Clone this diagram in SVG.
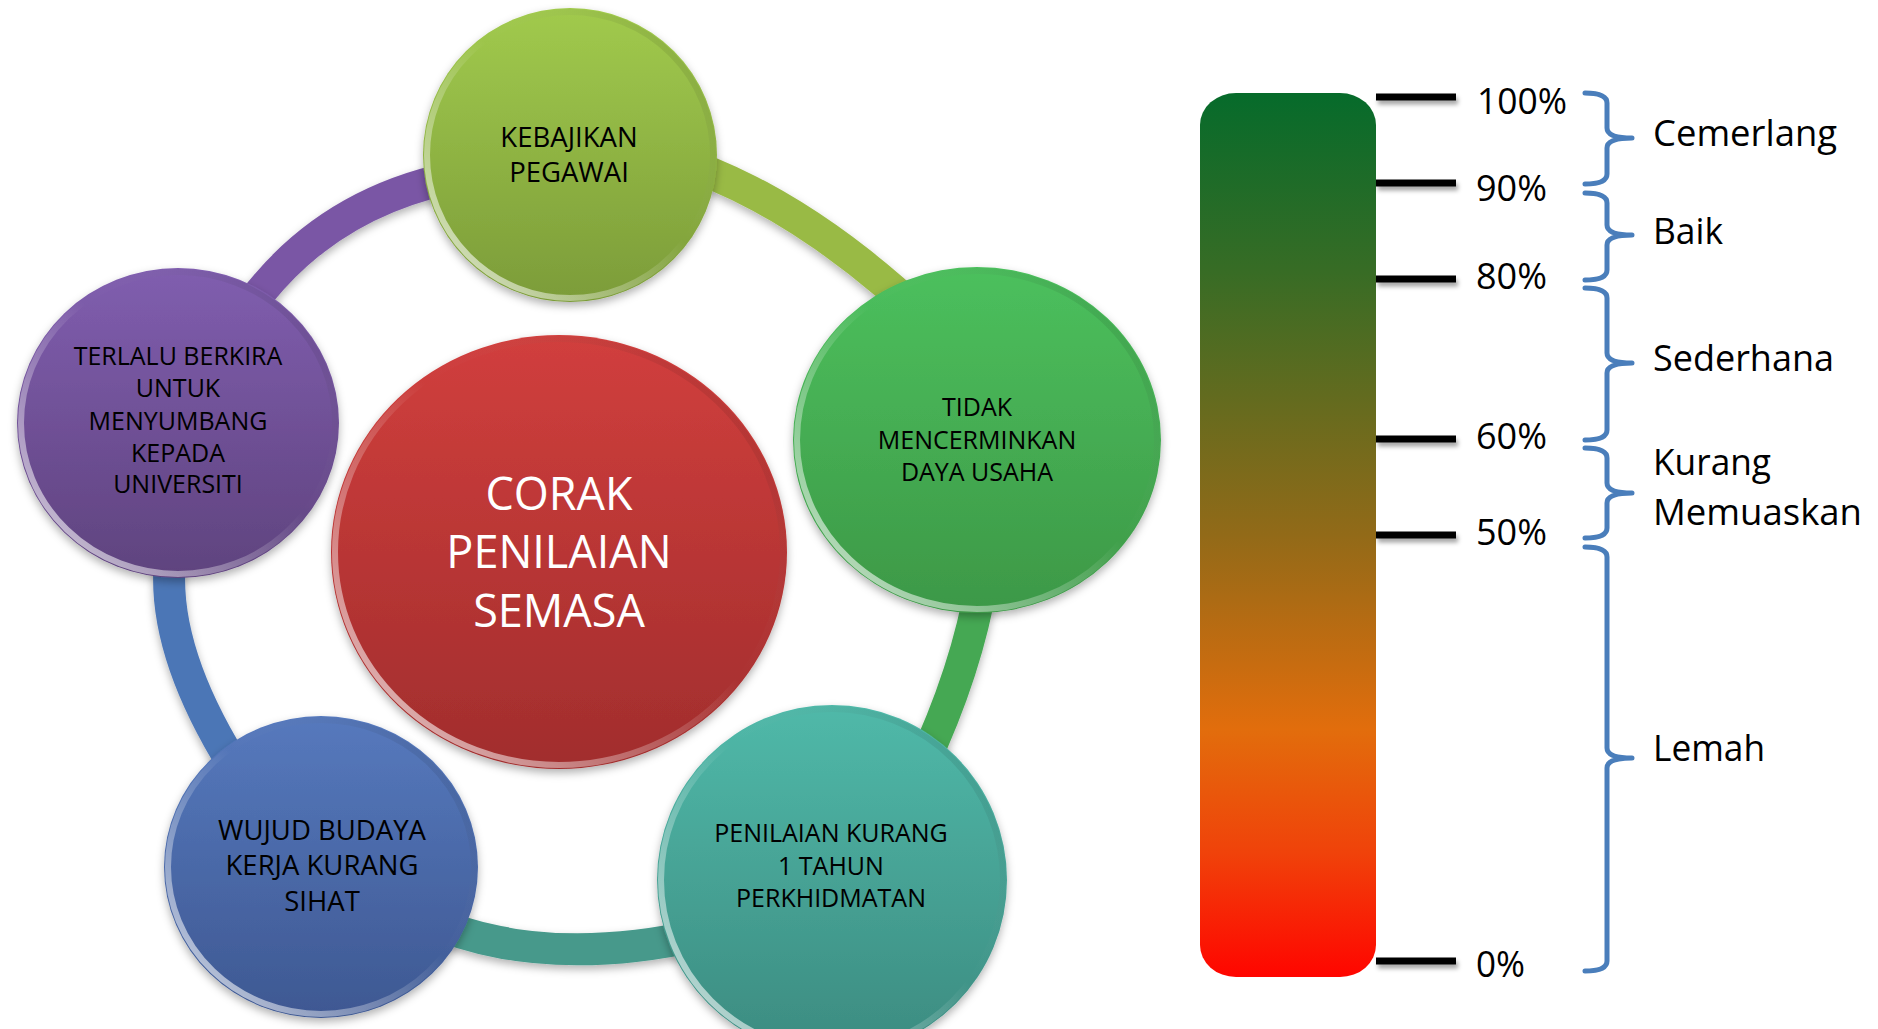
<svg xmlns="http://www.w3.org/2000/svg" width="1878" height="1029" viewBox="0 0 1878 1029">
<defs>
  <style>
    .lbl { font-family: "Open Sans", "Liberation Sans", sans-serif; fill: #000; text-anchor: middle; }
    .s25 { font-size: 25px; }
    .s27 { font-size: 27.5px; }
    .ctr { font-family: "Open Sans", "Liberation Sans", sans-serif; font-size: 45px; fill: #fff; text-anchor: middle; }
    .scale { font-family: "Open Sans", "Liberation Sans", sans-serif; font-size: 37px; fill: #000; }
    .arc { fill: none; stroke-width: 32; stroke-linecap: butt; }
    .rim { fill: none; stroke: url(#rim); stroke-width: 6; }
    .tick { stroke: #000; stroke-width: 7; }
    .brace { fill: none; stroke: #4A7EBB; stroke-width: 5; stroke-linejoin: round; stroke-linecap: round; }
  </style>
  <filter id="sh" x="-20%" y="-20%" width="140%" height="140%">
    <feDropShadow dx="0" dy="4" stdDeviation="4" flood-color="#000" flood-opacity="0.3"/>
  </filter>
  <filter id="tsh" x="-20%" y="-100%" width="140%" height="400%">
    <feDropShadow dx="2" dy="4" stdDeviation="2" flood-color="#000" flood-opacity="0.35"/>
  </filter>
  <linearGradient id="rim" x1="0" y1="1" x2="1" y2="0">
    <stop offset="0" stop-color="#fff" stop-opacity="0.8"/>
    <stop offset="0.3" stop-color="#fff" stop-opacity="0.35"/>
    <stop offset="0.55" stop-color="#fff" stop-opacity="0"/>
    <stop offset="0.85" stop-color="#000" stop-opacity="0.08"/>
    <stop offset="1" stop-color="#fff" stop-opacity="0.3"/>
  </linearGradient>
  <linearGradient id="gRed" x1="0" y1="0" x2="0" y2="1">
    <stop offset="0" stop-color="#D13F3D"/>
    <stop offset="1" stop-color="#A12D2D"/>
  </linearGradient>
  <linearGradient id="gTop" x1="0" y1="0" x2="0" y2="1">
    <stop offset="0" stop-color="#A1CA4D"/>
    <stop offset="1" stop-color="#7C9C39"/>
  </linearGradient>
  <linearGradient id="gGreen" x1="0" y1="0" x2="0" y2="1">
    <stop offset="0" stop-color="#4CC05D"/>
    <stop offset="1" stop-color="#3D9847"/>
  </linearGradient>
  <linearGradient id="gTeal" x1="0" y1="0" x2="0" y2="1">
    <stop offset="0" stop-color="#50B9A9"/>
    <stop offset="1" stop-color="#3C8B80"/>
  </linearGradient>
  <linearGradient id="gBlue" x1="0" y1="0" x2="0" y2="1">
    <stop offset="0" stop-color="#5679BD"/>
    <stop offset="1" stop-color="#3E5892"/>
  </linearGradient>
  <linearGradient id="gPurple" x1="0" y1="0" x2="0" y2="1">
    <stop offset="0" stop-color="#805EAF"/>
    <stop offset="1" stop-color="#5F437E"/>
  </linearGradient>
  <linearGradient id="gBar" x1="0" y1="0" x2="0" y2="1">
    <stop offset="0" stop-color="#066B2B"/>
    <stop offset="0.2" stop-color="#376C25"/>
    <stop offset="0.5" stop-color="#926A18"/>
    <stop offset="0.72" stop-color="#E26D0C"/>
    <stop offset="0.86" stop-color="#F0420A"/>
    <stop offset="1" stop-color="#FF0500"/>
  </linearGradient>
</defs>
<rect width="1878" height="1029" fill="#fff"/>

<g id="connectors" filter="url(#sh)">
  <path class="arc" stroke="#7A57A5" d="M240,320 Q315,207 450,178"/>
  <path class="arc" stroke="#99BA45" d="M690,165 Q800,205 910,305"/>
  <path class="arc" stroke="#45A852" d="M982,580 Q967,671 920,770"/>
  <path class="arc" stroke="#47998B" d="M700,935 Q550,968 440,925"/>
  <path class="arc" stroke="#4C76B6" d="M240,775 Q161,652.5 170,560"/>
</g>

<g id="node-top">
  <ellipse cx="570" cy="155" rx="147" ry="147" fill="url(#gTop)" filter="url(#sh)"/>
  <ellipse class="rim" cx="570" cy="155" rx="143" ry="143"/>
  <text class="lbl s27" x="569" y="147">KEBAJIKAN</text>
  <text class="lbl s27" x="569" y="182">PEGAWAI</text>
</g>

<g id="node-green">
  <ellipse cx="977" cy="440" rx="184" ry="173" fill="url(#gGreen)" filter="url(#sh)"/>
  <ellipse class="rim" cx="977" cy="440" rx="180" ry="169"/>
  <text class="lbl s25" x="977" y="416">TIDAK</text>
  <text class="lbl s25" x="977" y="449">MENCERMINKAN</text>
  <text class="lbl s25" x="977" y="481">DAYA USAHA</text>
</g>

<g id="node-teal">
  <ellipse cx="832" cy="880" rx="175" ry="175" fill="url(#gTeal)" filter="url(#sh)"/>
  <ellipse class="rim" cx="832" cy="880" rx="171" ry="171"/>
  <text class="lbl s25" x="831" y="842">PENILAIAN KURANG</text>
  <text class="lbl s25" x="831" y="875">1 TAHUN</text>
  <text class="lbl s25" x="831" y="907">PERKHIDMATAN</text>
</g>

<g id="node-blue">
  <ellipse cx="321" cy="867" rx="157" ry="151" fill="url(#gBlue)" filter="url(#sh)"/>
  <ellipse class="rim" cx="321" cy="867" rx="153" ry="147"/>
  <text class="lbl s27" x="322" y="840">WUJUD BUDAYA</text>
  <text class="lbl s27" x="322" y="875">KERJA KURANG</text>
  <text class="lbl s27" x="322" y="911">SIHAT</text>
</g>

<g id="node-purple">
  <ellipse cx="178" cy="423" rx="161" ry="155" fill="url(#gPurple)" filter="url(#sh)"/>
  <ellipse class="rim" cx="178" cy="423" rx="157" ry="151"/>
  <text class="lbl s25" x="178" y="365">TERLALU BERKIRA</text>
  <text class="lbl s25" x="178" y="397">UNTUK</text>
  <text class="lbl s25" x="178" y="430">MENYUMBANG</text>
  <text class="lbl s25" x="178" y="462">KEPADA</text>
  <text class="lbl s25" x="178" y="493">UNIVERSITI</text>
</g>

<g id="node-center">
  <ellipse cx="559" cy="552" rx="228" ry="217" fill="url(#gRed)" filter="url(#sh)"/>
  <ellipse class="rim" cx="559" cy="552" rx="224" ry="213"/>
  <text class="ctr" x="559" y="510">CORAK</text>
  <text class="ctr" x="559" y="568">PENILAIAN</text>
  <text class="ctr" x="559" y="627">SEMASA</text>
</g>

<g id="scale-bar">
  <rect x="1200" y="93" width="176" height="884" rx="36" ry="32" fill="url(#gBar)"/>
</g>

<g id="ticks" filter="url(#tsh)">
  <line class="tick" x1="1376" y1="97" x2="1456" y2="97"/>
  <line class="tick" x1="1376" y1="183" x2="1456" y2="183"/>
  <line class="tick" x1="1376" y1="279" x2="1456" y2="279"/>
  <line class="tick" x1="1376" y1="439" x2="1456" y2="439"/>
  <line class="tick" x1="1376" y1="535" x2="1456" y2="535"/>
  <line class="tick" x1="1376" y1="961" x2="1456" y2="961"/>
</g>

<g id="percent-labels">
  <text class="scale" x="1477" y="114" textLength="90" lengthAdjust="spacingAndGlyphs">100%</text>
  <text class="scale" x="1476" y="201" textLength="71" lengthAdjust="spacingAndGlyphs">90%</text>
  <text class="scale" x="1476" y="289" textLength="71" lengthAdjust="spacingAndGlyphs">80%</text>
  <text class="scale" x="1476" y="449" textLength="71" lengthAdjust="spacingAndGlyphs">60%</text>
  <text class="scale" x="1476" y="545" textLength="71" lengthAdjust="spacingAndGlyphs">50%</text>
  <text class="scale" x="1476" y="977" textLength="49" lengthAdjust="spacingAndGlyphs">0%</text>
</g>

<g id="braces">
  <path class="brace" d="M1585,93 Q1607,93 1607,103 L1607,128 Q1607,138 1632,138 Q1607,138 1607,148 L1607,174 Q1607,184 1585,184"/>
  <path class="brace" d="M1585,193 Q1607,193 1607,203 L1607,225 Q1607,235 1632,235 Q1607,235 1607,245 L1607,270 Q1607,280 1585,280"/>
  <path class="brace" d="M1585,288 Q1607,288 1607,298 L1607,353 Q1607,363 1632,363 Q1607,363 1607,373 L1607,430 Q1607,440 1585,440"/>
  <path class="brace" d="M1585,448 Q1607,448 1607,458 L1607,483 Q1607,493 1632,493 Q1607,493 1607,503 L1607,528 Q1607,538 1585,538"/>
  <path class="brace" d="M1585,547 Q1607,547 1607,557 L1607,748 Q1607,758 1632,758 Q1607,758 1607,768 L1607,961 Q1607,971 1585,971"/>
</g>

<g id="category-labels">
  <text class="scale" x="1653" y="146" textLength="184" lengthAdjust="spacingAndGlyphs">Cemerlang</text>
  <text class="scale" x="1653" y="244" textLength="70" lengthAdjust="spacingAndGlyphs">Baik</text>
  <text class="scale" x="1653" y="371" textLength="181" lengthAdjust="spacingAndGlyphs">Sederhana</text>
  <text class="scale" x="1653" y="475" textLength="118" lengthAdjust="spacingAndGlyphs">Kurang</text>
  <text class="scale" x="1653" y="525" textLength="209" lengthAdjust="spacingAndGlyphs">Memuaskan</text>
  <text class="scale" x="1653" y="761" textLength="112" lengthAdjust="spacingAndGlyphs">Lemah</text>
</g>
</svg>
